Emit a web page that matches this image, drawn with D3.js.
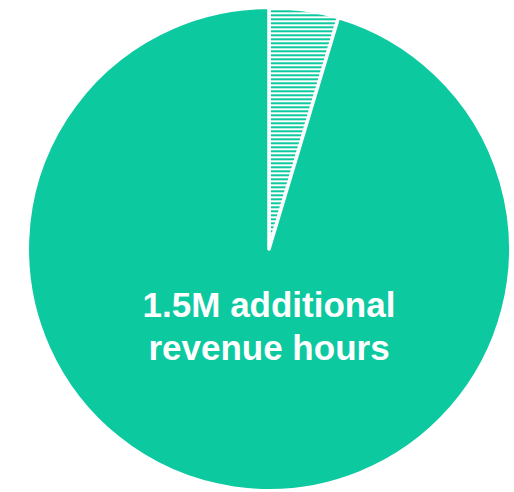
<!DOCTYPE html>
<html>
<head>
<meta charset="utf-8">
<script src="https://cdn.jsdelivr.net/npm/d3@7"></script>
<style>
  html, body { margin: 0; padding: 0; background: #ffffff; }
  svg { display: block; }
</style>
</head>
<body>
<svg id="chart" width="514" height="492"></svg>
<script>
// Revenue hours split (millions)
const categories = ["Other", "Additional revenue hours"];
const values = [0.073, 1.5];
const labelLines = ["1.5M additional", "revenue hours"];

const width = 514, height = 492;
const cx = 269, cy = 249, radius = 241.7;
const green = "#0cc9a0";

const svg = d3.select("#chart");

// Horizontal stripe fill for the small slice
const defs = svg.append("defs");
const pat = defs.append("pattern")
  .attr("id", "stripes")
  .attr("patternUnits", "userSpaceOnUse")
  .attr("x", 0).attr("y", 1.3)
  .attr("width", 8).attr("height", 4);
pat.append("rect").attr("width", 8).attr("height", 4).attr("fill", "#ffffff");
pat.append("rect").attr("width", 8).attr("height", 2).attr("fill", green);

const pie = d3.pie().sort(null).value(d => d)
  .startAngle(0).endAngle(2 * Math.PI);
const arc = d3.arc().innerRadius(0).outerRadius(radius);

const g = svg.append("g").attr("transform", `translate(${cx},${cy})`);

g.selectAll("path.slice")
  .data(pie(values))
  .join("path")
  .attr("class", "slice")
  .attr("d", arc)
  .attr("fill", (d, i) => i === 0 ? "url(#stripes)" : green)
  .attr("stroke", "#ffffff")
  .attr("stroke-width", 3.5)
  .attr("stroke-linejoin", "round");

// Label for the main slice
const text = g.append("text")
  .attr("text-anchor", "middle")
  .attr("fill", "#ffffff")
  .style("font-family", "'Liberation Sans', Arial, Helvetica, sans-serif")
  .style("font-weight", "bold")
  .style("font-size", "35px");

text.selectAll("tspan")
  .data(labelLines)
  .join("tspan")
  .attr("x", 0)
  .attr("y", (d, i) => 316.7 - cy + i * 43.5)
  .text(d => d);
</script>
</body>
</html>
